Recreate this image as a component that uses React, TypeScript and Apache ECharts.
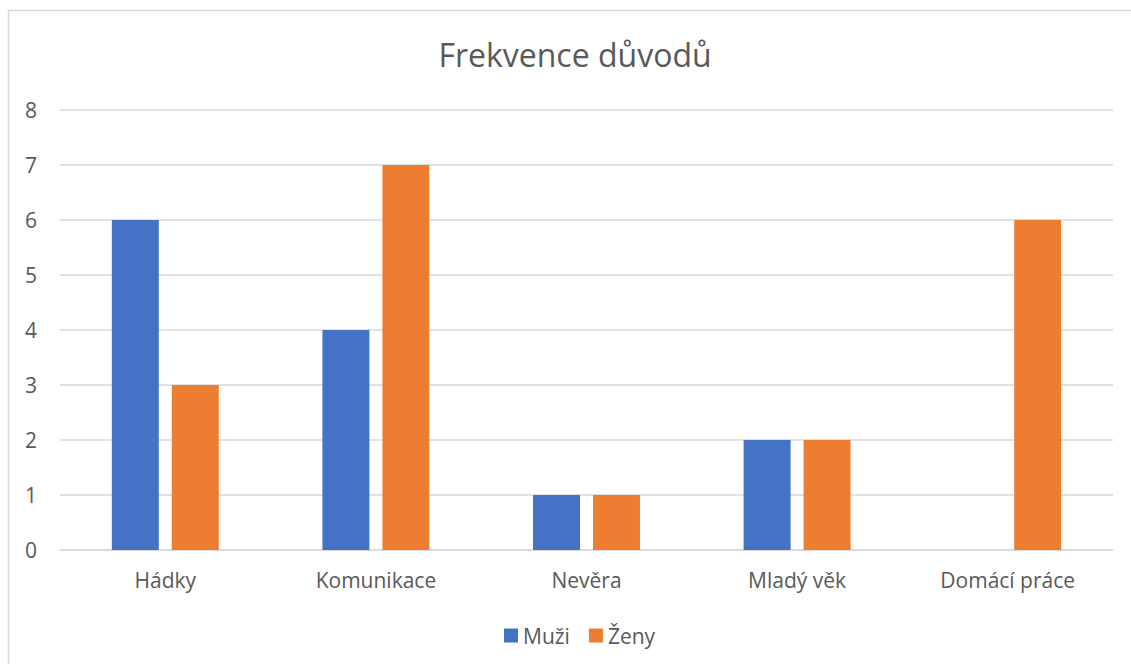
import React, { useEffect, useRef } from "react";
import * as echarts from "echarts";

const categories = ["Hádky", "Komunikace", "Nevěra", "Mladý věk", "Domácí práce"];
const muzi = [6, 4, 1, 2, 0];
const zeny = [3, 7, 1, 2, 6];
const seriesNames = ["Muži", "Ženy"];
const titleText = "Frekvence důvodů";

const FONT = "'Open Sans', 'Noto Sans', sans-serif";
const TXT = "#595959";

export default function App() {
  const ref = useRef<HTMLDivElement>(null);
  useEffect(() => {
    if (!ref.current) return;
    const chart = echarts.init(ref.current, undefined, { renderer: "svg" });
    chart.setOption({
      animation: false,
      backgroundColor: "#ffffff",
      textStyle: { fontFamily: FONT },
      title: {
        text: titleText,
        left: 570,
        textAlign: "center",
        top: 33,
        textStyle: { fontFamily: FONT, fontSize: 32, fontWeight: "normal", color: TXT },
      },
      graphic: [
        {
          type: "rect",
          shape: { x: 8.5, y: 10.5, width: 1200, height: 800 },
          style: { fill: "none", stroke: "#d9d9d9", lineWidth: 1.5 },
          silent: true,
        },
      ],
      legend: {
        data: seriesNames,
        left: 499,
        top: 620,
        itemWidth: 14,
        itemHeight: 14,
        itemGap: 19,
        icon: "rect",
        textStyle: { fontFamily: FONT, fontSize: 21, color: TXT },
      },
      grid: { left: 60, right: 18, top: 110, bottom: 114, containLabel: false },
      xAxis: {
        type: "category",
        data: categories,
        axisLine: { lineStyle: { color: "#d9d9d9", width: 1.5 } },
        axisTick: { show: false },
        axisLabel: { color: TXT, fontFamily: FONT, fontSize: 21, margin: 19 },
      },
      yAxis: {
        type: "value",
        min: 0,
        max: 8,
        interval: 1,
        axisLine: { show: false },
        axisTick: { show: false },
        splitLine: { lineStyle: { color: "#d9d9d9", width: 1.5 } },
        axisLabel: { color: TXT, fontFamily: FONT, fontSize: 21, margin: 23 },
      },
      series: [
        {
          name: seriesNames[0],
          type: "bar",
          data: muzi,
          barWidth: "22.3%",
          barGap: "27.7%",
          itemStyle: { color: "#4472C4" },
        },
        {
          name: seriesNames[1],
          type: "bar",
          data: zeny,
          barWidth: "22.3%",
          barGap: "27.7%",
          itemStyle: { color: "#ED7D31" },
        },
      ],
    });
    return () => chart.dispose();
  }, []);
  return (
    <div
      ref={ref}
      style={{ position: "absolute", left: 0, top: 0, width: 1131, height: 664 }}
    />
  );
}
